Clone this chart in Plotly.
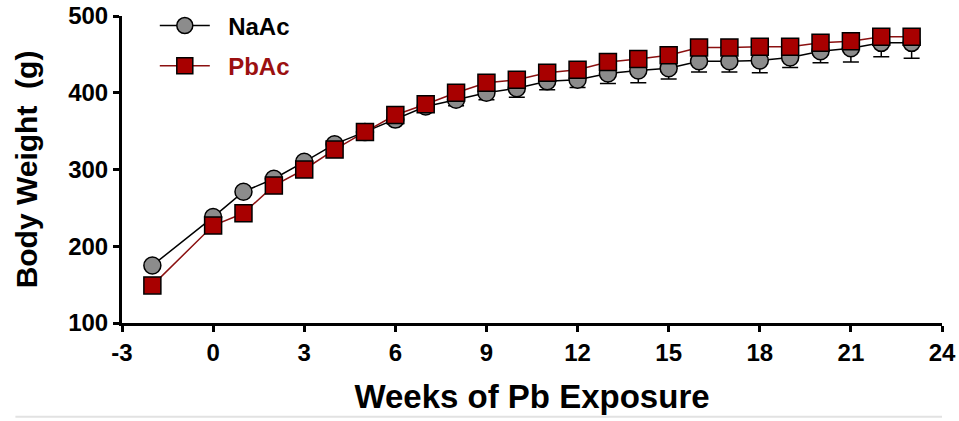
import plotly.graph_objects as go

weeks = [-2, 0, 1, 2, 3, 4, 5, 6, 7, 8, 9, 10, 11, 12, 13, 14, 15, 16, 17, 18, 19, 20, 21, 22, 23]
naac = [175, 238, 271, 288, 310, 333, 349, 365, 382, 391, 400, 406, 415, 417, 425, 429, 432, 441, 441, 442, 446, 454, 458, 465, 465]
naac_err = [3, 4, 4, 4, 5, 5, 5, 6, 7, 8, 9, 12, 11, 10, 13, 16, 14, 14, 14, 16, 13, 15, 18, 18, 20]
pbac = [149, 227, 243, 279, 300, 326, 349, 371, 385, 400, 413, 417, 426, 430, 440, 444, 449, 459, 459, 460, 460, 465, 467, 473, 473]
x_ticks = [-3, 0, 3, 6, 9, 12, 15, 18, 21, 24]
y_ticks = [100, 200, 300, 400, 500]

FONT = "Liberation Sans, Arial, sans-serif"

fig = go.Figure()
fig.add_trace(go.Scatter(
    x=weeks, y=naac, name="&nbsp;&nbsp;<b>NaAc</b>", mode="lines+markers", legendgroup="a",
    line=dict(color="black", width=1.5),
    marker=dict(symbol="circle", size=17, color="#8c8c8c", line=dict(color="black", width=1.5)),
    error_y=dict(type="data", symmetric=False, array=[0] * len(naac_err), arrayminus=naac_err,
                 color="black", thickness=1.5, width=8),
))
fig.add_trace(go.Scatter(
    x=weeks, y=pbac, name="&nbsp;&nbsp;<b><span style='color:#9b1010'>PbAc</span></b>", mode="lines+markers",
    legendgroup="b",
    line=dict(color="#8b1010", width=1.5),
    marker=dict(symbol="square", size=17, color="#a80000", line=dict(color="black", width=1.5)),
))

fig.update_layout(
    width=959, height=421,
    margin=dict(l=122, r=17, t=16, b=98, autoexpand=False),
    paper_bgcolor="white", plot_bgcolor="white",
    font=dict(family=FONT, color="black"),
    showlegend=True,
    legend=dict(x=0.04, y=1.041, xanchor="left", yanchor="top", bgcolor="rgba(0,0,0,0)",
                font=dict(size=24, family=FONT), itemwidth=50, tracegroupgap=6),
    xaxis=dict(range=[-3, 24], tickvals=x_ticks, ticktext=[f"<b>{v}</b>" for v in x_ticks],
               showgrid=False, zeroline=False, showline=True, linecolor="black", linewidth=3,
               ticks="outside", ticklen=6, tickwidth=3, tickcolor="black",
               tickfont=dict(size=24, family=FONT),
               title=dict(text="<b>Weeks of Pb Exposure</b>", font=dict(size=33, family=FONT), standoff=21)),
    yaxis=dict(range=[100, 500], tickvals=y_ticks, ticktext=[f"<b>{v}</b>" for v in y_ticks],
               showgrid=False, zeroline=False, showline=True, linecolor="black", linewidth=3,
               ticks="outside", ticklen=6, tickwidth=3, tickcolor="black",
               tickfont=dict(size=24, family=FONT),
               title=dict(text="<b>Body Weight  (g)</b>", font=dict(size=30, family=FONT), standoff=22)),
)

fig.add_shape(type="line", xref="paper", yref="paper", x0=-0.13, x1=1.0, y0=-0.305, y1=-0.305,
              line=dict(color="#e2e2e2", width=2))

fig.write_html("out.html")
